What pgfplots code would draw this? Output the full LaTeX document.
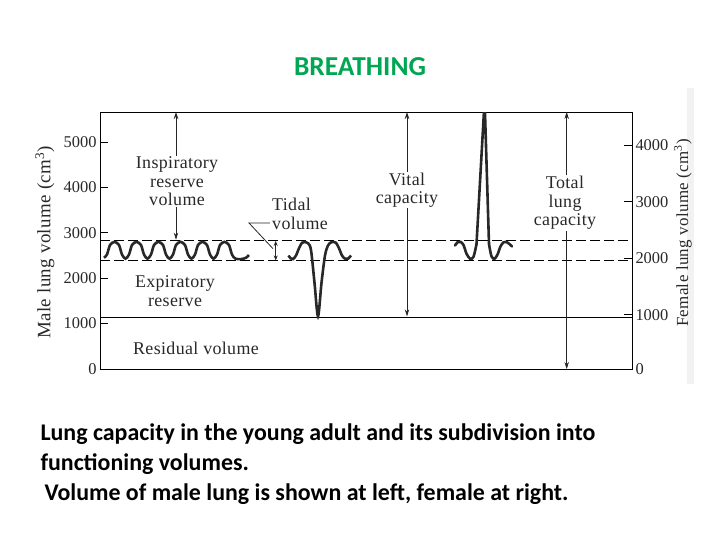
\documentclass[border=0pt]{standalone}
\usepackage{pgfplots}
\pgfplotsset{compat=1.18}
\usepackage{fontspec}
\setmainfont{Liberation Serif}
\newfontfamily\figfont{Liberation Serif}[LetterSpace=2]
\newfontfamily\calib{Carlito}
\usetikzlibrary{arrows.meta}
\definecolor{titlegreen}{RGB}{0,166,81}
\definecolor{ink}{RGB}{40,40,40}
\begin{document}
\begin{tikzpicture}
\useasboundingbox (0bp,0bp) rectangle (720bp,-540bp);
\fill[black!5] (687bp,-88bp) rectangle (694bp,-384bp);
\node[font=\calib\bfseries\fontsize{27.5}{32}\selectfont, text=titlegreen] at (360bp,-67bp) {BREATHING};

\begin{axis}[
  at={(100bp,-369bp)}, anchor=south west, scale only axis,
  width=532bp, height=257bp,
  xmin=100, xmax=632, ymin=0, ymax=5660,
  xtick=\empty,
  ytick={0,1000,2000,3000,4000,5000},
  yticklabels={0,1000,2000,3000,4000,5000},
  ytick pos=left, tick align=inside, major tick length=8bp,
  tick style={black, line width=0.9bp},
  axis line style={black, line width=1bp},
  yticklabel style={font=\fontsize{16.5}{18}\selectfont, text=ink},
  clip=true,
]
\addplot[black, line width=1bp, dash pattern=on 10bp off 4bp] coordinates {(100,2820) (632,2820)};
\addplot[black, line width=1bp, dash pattern=on 10bp off 4bp] coordinates {(100,2390) (632,2390)};
\addplot[black, line width=1bp] coordinates {(100,1140) (632,1140)};
% quiet breathing
\addplot[ink, line width=2.6bp, smooth] coordinates {
(104,2450) (107,2520) (110,2730) (114.5,2800) (119,2730) (122,2520) (125.5,2430)
(129,2520) (132,2730) (136.5,2800) (141,2730) (144,2520) (147.5,2430)
(151,2520) (154,2730) (158.5,2800) (163,2730) (166,2520) (169.5,2430)
(173,2520) (176,2730) (180.5,2800) (185,2730) (188,2520) (191.5,2430)
(195,2520) (198,2730) (202.5,2800) (207,2730) (210,2520) (213.5,2430)
(217,2520) (220,2730) (224.5,2800) (229,2730) (232,2520) (235.5,2430)
(241,2420) (246,2450) (249,2510)};
% maximal expiration
\addplot[ink, line width=2.6bp, smooth] coordinates {
(288.5,2500) (290.5,2440) (293,2420) (296,2500) (299,2660) (302,2780) (305,2800)
(308,2770) (311,2620) (314.5,1900) (318,1160) (321.5,1900) (325,2500) (328,2720)
(331,2790) (333.5,2800) (336,2780) (339,2660) (342,2500) (345,2430) (348,2430) (351,2500)};
% maximal inspiration
\addplot[ink, line width=2.6bp, smooth, line cap=round] coordinates {
(455,2720) (457.5,2790) (460.5,2800) (463.5,2730) (466.5,2540) (470,2430) (473.5,2470)
(476.5,2750)};
\addplot[ink, line width=2.6bp, line join=round, line cap=round] coordinates {
(476.5,2750) (484.6,5920) (489,2750)};
\addplot[ink, line width=2.6bp, smooth, line cap=round] coordinates {
(489,2750) (491.5,2480) (494.5,2430) (497.5,2520)
(500.5,2700) (503.5,2790) (506,2800) (509,2760) (512,2700)};
% arrows
\draw[black!85, line width=0.8bp, {Stealth[length=7bp,width=4.5bp]}-{Stealth[length=7bp,width=4.5bp]}]
  (axis cs:176,5660) -- (axis cs:176,2850);
\draw[black!85, line width=0.8bp, {Stealth[length=5bp,width=4bp]}-{Stealth[length=5bp,width=4bp]}]
  (axis cs:275.7,2820) -- (axis cs:275.7,2390);
\draw[black!85, line width=0.8bp] (axis cs:270,3215) -- (axis cs:249,3215) -- (axis cs:273,2650);
\draw[black!85, line width=0.8bp, {Stealth[length=7bp,width=4.5bp]}-{Stealth[length=7bp,width=4.5bp]}]
  (axis cs:407,5660) -- (axis cs:407,1160);
\draw[black!85, line width=0.8bp, {Stealth[length=7bp,width=4.5bp]}-{Stealth[length=7bp,width=4.5bp]}]
  (axis cs:566.7,5660) -- (axis cs:566.7,0);
\end{axis}

\begin{axis}[
  at={(100bp,-369bp)}, anchor=south west, scale only axis,
  width=532bp, height=257bp,
  xmin=100, xmax=632, ymin=40, ymax=4590,
  hide x axis, axis y line*=right,
  ytick={40,1000,2000,3000,4000},
  yticklabels={0,1000,2000,3000,4000},
  tick align=inside, major tick length=8bp,
  tick style={black, line width=0.9bp},
  axis line style={black, line width=1bp},
  yticklabel style={font=\fontsize{16.5}{18}\selectfont, text=ink},
]
\addplot[draw=none] coordinates {(100,1000) (632,1000)};
\end{axis}

\tikzset{lab/.style={font=\figfont\fontsize{18}{18.5}\selectfont, text=ink, align=center, inner sep=1bp}}
\node[lab, fill=white] at (177bp,-181.5bp) {Inspiratory\\reserve\\volume};
\node[lab, anchor=west, align=left] at (271bp,-214bp) {Tidal\\volume};
\node[lab, fill=white] at (407bp,-190bp) {Vital\\capacity};
\node[lab, fill=white] at (565bp,-203bp) {Total\\lung\\capacity};
\node[lab] at (175bp,-291bp) {Expiratory\\reserve};
\node[lab] at (196bp,-348bp) {Residual volume};
\node[lab, rotate=90, font=\figfont\fontsize{19}{20}\selectfont] at (45bp,-242.5bp) {Male lung volume (cm\textsuperscript{3})};
\node[lab, rotate=90, font=\figfont\fontsize{17}{18}\selectfont] at (683bp,-233bp) {Female lung volume (cm\textsuperscript{3})};

\node[anchor=base west, font=\calib\bfseries\fontsize{24}{28}\selectfont] at (37bp,-440bp) {Lung capacity in the young adult and its subdivision into};
\node[anchor=base west, font=\calib\bfseries\fontsize{24}{28}\selectfont] at (37bp,-470bp) {functioning volumes.};
\node[anchor=base west, font=\calib\bfseries\fontsize{24}{28}\selectfont] at (41bp,-500bp) {Volume of male lung is shown at left, female at right.};
\end{tikzpicture}
\end{document}
